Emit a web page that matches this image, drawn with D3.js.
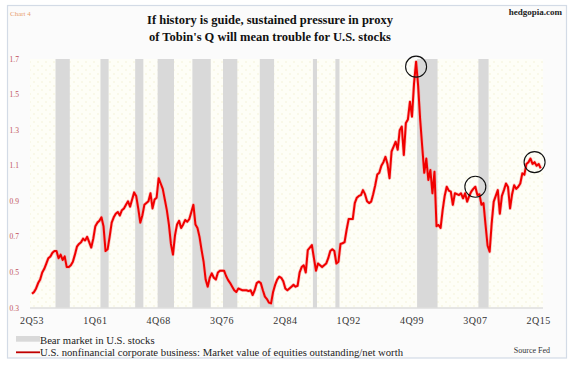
<!DOCTYPE html>
<html>
<head>
<meta charset="utf-8">
<script src="https://cdn.jsdelivr.net/npm/d3@7"></script>
<style>
html,body{margin:0;padding:0;background:#fff;}
svg{display:block;}
</style>
</head>
<body>
<div id="chart"></div>
<script>
// ---------- DATA ----------
const firstQuarter = {q: 2, year: 1953};
const lastQuarter = {q: 3, year: 2015};

// Market value of equities outstanding / net worth (quarterly, 2Q53 .. 3Q15)
const tobinsQ = [
  0.38,0.39,0.41,                 // 2Q53-4Q53
  0.44,0.46,0.50,0.52,            // 1954
  0.55,0.58,0.59,0.61,            // 1955
  0.62,0.62,0.58,0.60,            // 1956
  0.57,0.59,0.53,0.53,            // 1957
  0.54,0.56,0.60,0.645,           // 1958
  0.66,0.67,0.69,0.68,            // 1959
  0.70,0.67,0.64,0.69,            // 1960
  0.76,0.78,0.79,0.81,            // 1961
  0.76,0.62,0.63,0.70,            // 1962
  0.78,0.81,0.83,0.84,            // 1963
  0.82,0.85,0.86,0.88,            // 1964
  0.90,0.87,0.91,0.95,            // 1965
  0.93,0.86,0.78,0.82,            // 1966
  0.88,0.89,0.90,0.945,           // 1967
  0.86,0.91,0.92,1.03,            // 1968
  1.00,0.97,0.91,0.85,            // 1969
  0.77,0.66,0.60,0.71,            // 1970
  0.77,0.79,0.75,0.77,            // 1971
  0.795,0.785,0.80,0.84,          // 1972
  0.88,0.77,0.75,0.70,            // 1973
  0.626,0.56,0.46,0.42,           // 1974
  0.47,0.495,0.47,0.46,           // 1975
  0.50,0.51,0.51,0.51,            // 1976
  0.48,0.457,0.44,0.42,           // 1977
  0.40,0.39,0.41,0.405,           // 1978
  0.40,0.40,0.40,0.395,           // 1979
  0.40,0.373,0.40,0.44,           // 1980
  0.448,0.44,0.40,0.364,          // 1981
  0.35,0.33,0.326,0.39,           // 1982
  0.43,0.46,0.476,0.47,           // 1983
  0.45,0.41,0.40,0.41,            // 1984
  0.42,0.43,0.42,0.425,           // 1985
  0.50,0.53,0.54,0.50,            // 1986
  0.626,0.64,0.654,0.58,          // 1987
  0.51,0.55,0.54,0.53,            // 1988
  0.54,0.55,0.58,0.62,            // 1989
  0.63,0.62,0.55,0.56,            // 1990
  0.66,0.664,0.67,0.74,           // 1991
  0.80,0.80,0.80,0.89,            // 1992
  0.92,0.93,0.935,0.963,          // 1993
  0.94,0.90,0.89,0.898,           // 1994
  0.94,0.99,1.05,1.06,            // 1995
  1.10,1.12,1.15,1.11,            // 1996
  1.03,1.18,1.207,1.235,          // 1997
  1.19,1.30,1.32,1.16,            // 1998
  1.34,1.36,1.46,1.376,           // 1999
  1.563,1.685,1.55,1.36,          // 2000
  1.207,1.06,1.14,1.02,           // 2001
  1.076,0.945,1.066,0.76,         // 2002
  0.767,0.75,0.85,0.93,           // 2003
  0.982,0.96,0.954,0.88,          // 2004
  0.945,0.94,0.935,0.945,         // 2005
  0.917,0.945,0.898,0.93,         // 2006
  0.954,0.97,0.982,0.935,         // 2007
  0.94,0.88,0.89,0.767,           // 2008
  0.65,0.616,0.776,0.898,         // 2009
  0.93,0.963,0.83,0.93,           // 2010
  0.963,1.0,0.98,0.86,            // 2011
  0.94,0.99,0.97,0.982,           // 2012
  1.0,1.057,1.05,1.11,            // 2013
  1.12,1.14,1.11,1.12,            // 2014
  1.10,1.11,1.085                 // 1Q15-3Q15
];

// Bear markets in U.S. stocks (first and last quarter shaded)
const bearStarts = ["2Q56","4Q61","1Q66","4Q68","1Q73","4Q76","2Q81","4Q87","3Q90","3Q00","1Q08"];
const bearEnds   = ["4Q57","3Q62","4Q66","3Q70","1Q75","2Q78","4Q82","1Q88","4Q90","4Q02","1Q09"];

// Circled quarters
const circledQuarters = ["2Q00","3Q07","4Q14"];

const xTickLabels = ["2Q53","1Q61","4Q68","3Q76","2Q84","1Q92","4Q99","3Q07","2Q15"];
const yTickValues = [0.3,0.5,0.7,0.9,1.1,1.3,1.5,1.7];

const titleLines = ["If history is guide, sustained pressure in proxy",
                    "of Tobin's Q will mean trouble for U.S. stocks"];
const legendBear = "Bear market in U.S. stocks";
const legendLine = "U.S. nonfinancial corporate business: Market value of equities outstanding/net worth";

// ---------- BUILD CATEGORIES ----------
const quarters = [];
{
  let q = firstQuarter.q, y = firstQuarter.year;
  while (y < lastQuarter.year || (y === lastQuarter.year && q <= lastQuarter.q)) {
    quarters.push(q + "Q" + String(y % 100).padStart(2, "0"));
    q++; if (q > 4) { q = 1; y++; }
  }
}
const data = quarters.map((k, i) => ({k, v: tobinsQ[i]}));

// ---------- LAYOUT ----------
const W = 570, H = 367;
const serif = "'Liberation Serif','Times New Roman',serif";
const plot = {left: 30, right: 543, top: 59, bottom: 307.5};

const svg = d3.select("#chart").append("svg").attr("width", W).attr("height", H);

const defs = svg.append("defs");
const pat = defs.append("pattern").attr("id", "dots").attr("width", 8).attr("height", 8)
  .attr("patternUnits", "userSpaceOnUse");
pat.append("rect").attr("width", 8).attr("height", 8).attr("fill", "#fefef7");
pat.append("circle").attr("cx", 2).attr("cy", 2).attr("r", 0.8).attr("fill", "#f4f2d6");
pat.append("circle").attr("cx", 6).attr("cy", 6).attr("r", 0.8).attr("fill", "#f4f2d6");

// outer panel
svg.append("rect").attr("x", 7.5).attr("y", 5.5).attr("width", 559).attr("height", 352.5)
  .attr("fill", "#fbfbfb").attr("stroke", "#d3dbe6").attr("stroke-width", 1.2);

// scales
const step = 2.043;
const x = d3.scaleBand().domain(quarters)
  .range([32 - step / 2, 32 - step / 2 + quarters.length * step]).padding(0);
const xc = k => x(k) + x.bandwidth() / 2;
const y = d3.scaleLinear().domain([0.3, 1.7]).range([308, 59]);

// plot background
svg.append("rect").attr("x", plot.left).attr("y", plot.top)
  .attr("width", plot.right - plot.left).attr("height", plot.bottom - plot.top)
  .attr("fill", "url(#dots)");

// bear market bands
svg.append("g").selectAll("rect").data(bearStarts.map((s, i) => [s, bearEnds[i]]))
  .join("rect")
  .attr("x", d => x(d[0]))
  .attr("width", d => x(d[1]) + x.bandwidth() - x(d[0]))
  .attr("y", plot.top).attr("height", plot.bottom - plot.top)
  .attr("fill", "#d9d9d9");

// baseline
svg.append("line").attr("x1", plot.left).attr("x2", plot.right)
  .attr("y1", plot.bottom + 0.5).attr("y2", plot.bottom + 0.5)
  .attr("stroke", "#cfcfcf").attr("stroke-width", 1);

// line
const line = d3.line().x(d => xc(d.k)).y(d => y(d.v));
svg.append("path").datum(data).attr("d", line)
  .attr("fill", "none").attr("stroke", "#f4a0a0").attr("stroke-width", 3.4)
  .attr("stroke-linejoin", "round").attr("opacity", 0.6);
svg.append("path").datum(data).attr("d", line)
  .attr("fill", "none").attr("stroke", "#f00000").attr("stroke-width", 2)
  .attr("stroke-linejoin", "round");

// circles
const circleOffsets = [5, 0, 0];
svg.append("g").selectAll("circle").data(circledQuarters).join("circle")
  .attr("cx", k => xc(k))
  .attr("cy", (k, i) => y(data[quarters.indexOf(k)].v) + circleOffsets[i])
  .attr("r", 10.5)
  .attr("fill", "none").attr("stroke", "#111").attr("stroke-width", 1.1);

// y axis labels
svg.append("g").selectAll("text").data(yTickValues).join("text")
  .attr("x", 9.5).attr("y", d => y(d)).attr("dy", "0.35em")
  .attr("font-family", serif).attr("font-size", 7.5).attr("fill", "#c0505a")
  .text(d => d.toFixed(1));

// x axis labels
const xAxis = d3.axisBottom(x).tickValues(xTickLabels).tickSize(0).tickPadding(0);
const gx = svg.append("g").attr("transform", `translate(0,323.5)`).call(xAxis);
gx.select(".domain").remove();
gx.selectAll("text").attr("font-family", serif).attr("font-size", 10).attr("fill", "#333")
  .attr("letter-spacing", 0.5).attr("dy", 0);

// title
svg.append("g").selectAll("text").data(titleLines).join("text")
  .attr("x", 270).attr("y", (d, i) => 23.5 + i * 17.5)
  .attr("text-anchor", "middle").attr("font-family", serif)
  .attr("font-weight", "bold").attr("font-size", 12.5).attr("fill", "#111")
  .text(d => d);

svg.append("text").attr("x", 10).attr("y", 16).attr("font-family", serif)
  .attr("font-size", 7).attr("fill", "#e8a070").text("Chart 4");
svg.append("text").attr("x", 562).attr("y", 15).attr("text-anchor", "end")
  .attr("font-family", serif).attr("font-weight", "bold").attr("font-size", 9)
  .attr("fill", "#222").text("hedgopia.com");

// legend
svg.append("rect").attr("x", 16).attr("y", 336).attr("width", 24).attr("height", 5.7)
  .attr("fill", "#d9d9d9");
svg.append("text").attr("x", 40).attr("y", 343.5).attr("font-family", serif)
  .attr("font-size", 10.7).attr("fill", "#222").text(legendBear);
svg.append("line").attr("x1", 16).attr("x2", 40).attr("y1", 352.3).attr("y2", 352.3)
  .attr("stroke", "#c00000").attr("stroke-width", 1.8);
svg.append("text").attr("x", 40).attr("y", 355.5).attr("font-family", serif)
  .attr("font-size", 10.7).attr("fill", "#222").text(legendLine);
svg.append("text").attr("x", 550).attr("y", 353).attr("text-anchor", "end")
  .attr("font-family", serif).attr("font-size", 8).attr("fill", "#333").text("Source Fed");
</script>
</body>
</html>
